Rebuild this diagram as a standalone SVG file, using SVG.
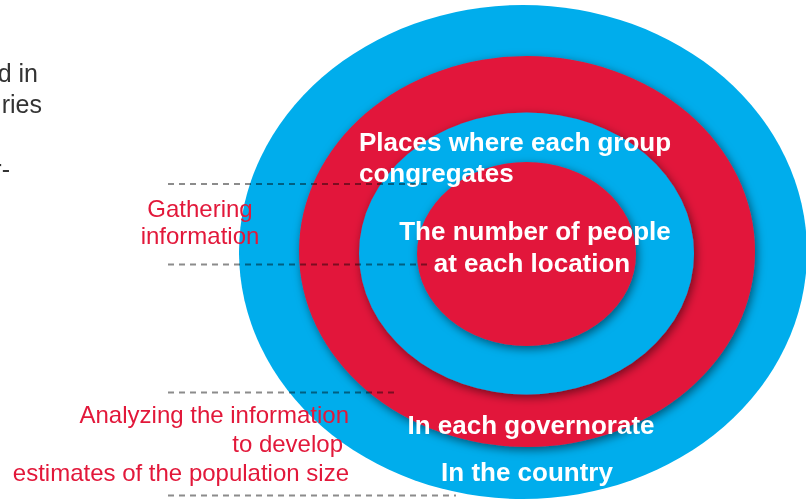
<svg xmlns="http://www.w3.org/2000/svg" width="806" height="502" viewBox="0 0 806 502">
<defs>
<filter id="sh" x="-20%" y="-20%" width="140%" height="140%">
<feDropShadow dx="2" dy="3" stdDeviation="5" flood-color="#000" flood-opacity="0.5"/>
</filter>
<style>
.blue{fill:#00ADEC}
.red{fill:#E2183A}
.wt{fill:#fff;font-family:"Liberation Sans",Arial,sans-serif;font-weight:bold;font-size:26px}
.rt{fill:#E2183A;font-family:"Liberation Sans",Arial,sans-serif;font-size:24px}
.bt{fill:#333;font-family:"Liberation Sans",Arial,sans-serif;font-size:25px}
.dash{stroke:#8c8c8c;stroke-width:2;stroke-dasharray:6 5;fill:none;mix-blend-mode:multiply}
</style>
</defs>
<rect width="806" height="502" fill="#fff"/>
<g id="left-text">
<text class="bt" x="38" y="82" text-anchor="end">d in</text>
<text class="bt" x="42" y="113" text-anchor="end">ries</text>
<text class="bt" x="10" y="178" text-anchor="end">r-</text>
</g>
<g id="country">
<ellipse class="blue" cx="523" cy="252" rx="284" ry="247"/>
</g>
<g id="governorate">
<ellipse class="red" cx="527" cy="251.5" rx="228" ry="195.5" filter="url(#sh)"/>
</g>
<g id="places">
<ellipse class="blue" cx="526.5" cy="253.5" rx="167.5" ry="141" filter="url(#sh)"/>
</g>
<g id="people">
<ellipse class="red" cx="526.5" cy="254" rx="109.5" ry="92" filter="url(#sh)"/>
</g>
<g id="labels">
<text class="wt" x="359" y="151">Places where each group</text>
<text class="wt" x="359" y="182">congregates</text>
<text class="wt" x="535" y="240" text-anchor="middle">The number of people</text>
<text class="wt" x="532" y="272" text-anchor="middle">at each location</text>
<text class="wt" x="531" y="434" text-anchor="middle">In each governorate</text>
<text class="wt" x="527" y="481" text-anchor="middle">In the country</text>
</g>
<g id="connectors">
<line class="dash" x1="168" y1="184" x2="428" y2="184"/>
<line class="dash" x1="168" y1="264.5" x2="428" y2="264.5"/>
<line class="dash" x1="168" y1="392.5" x2="398" y2="392.5"/>
<line class="dash" x1="168" y1="495.5" x2="456" y2="495.5"/>
</g>
<g id="stage-labels">
<text class="rt" x="200" y="217" text-anchor="middle">Gathering</text>
<text class="rt" x="200" y="244" text-anchor="middle">information</text>
<text class="rt" x="349" y="423" text-anchor="end">Analyzing the information</text>
<text class="rt" x="343" y="452" text-anchor="end">to develop</text>
<text class="rt" x="349" y="481" text-anchor="end">estimates of the population size</text>
</g>
</svg>
